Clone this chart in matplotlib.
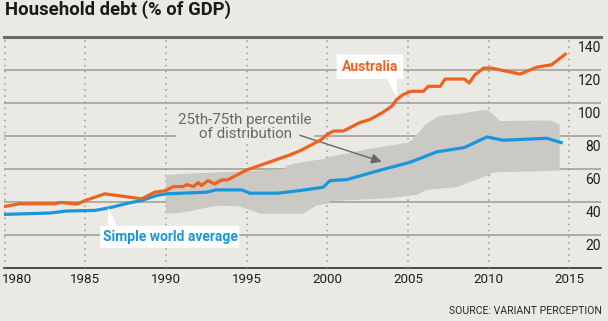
import matplotlib
matplotlib.use("Agg")
import matplotlib.pyplot as plt
from matplotlib.patches import Polygon

# Australia household debt, % of GDP (traced)
aus_years = [1980, 1980.95, 1983.1, 1983.5, 1984.5, 1985, 1986.2, 1988.5, 1989.3, 1990,
             1990.45, 1991.07, 1991.3, 1991.7, 1992.0, 1992.2, 1992.6, 1993.0, 1993.45,
             1993.8, 1995, 1997.7, 1998.3, 1998.9, 1999.65, 2000, 2000.4, 2001.0, 2002.0,
             2002.65, 2003.4, 2004.0, 2004.3, 2004.7, 2005.2, 2005.95, 2006.26, 2007.0,
             2007.3, 2008.5, 2008.8, 2009.15, 2009.7, 2010.2, 2011.95, 2013.0, 2013.9,
             2014.75]
aus_vals = [37.4, 39, 39, 39.8, 38.8, 41, 45, 42, 46, 47,
            49.4, 49.4, 50.6, 49.4, 51.8, 50, 53, 51, 53.4,
            53.4, 59.4, 68.6, 71, 74, 78, 81, 83, 83, 88,
            90, 94, 98, 102, 105, 107, 107, 110, 110,
            114.4, 114.4, 112, 117, 121, 121, 117.4, 121.6, 123,
            129.4]

# simple world average
wavg_years = [1980, 1982.8, 1983.8, 1985.6, 1986.5, 1987.66, 1988.5, 1989.4, 1990.0,
              1992.5, 1993.1, 1994.7, 1995.2, 1996.9, 1998.3, 1999.75, 2000.17, 2001.2,
              2003.3, 2005.1, 2006.8, 2008.5, 2009.9, 2010.9, 2013.6, 2014.5]
wavg_vals = [32.6, 33.4, 34.6, 35, 36.6, 39.4, 41, 44, 45,
             46, 47.4, 47.4, 45.4, 45.4, 47, 49, 53, 53.6,
             59.4, 64, 70.4, 73, 79.4, 77.4, 78.6, 76]

# 25th-75th percentile band
hi_years = [1990, 1991.7, 1994.8, 1997.3, 1997.5, 1998.3, 1999.75, 2000.17, 2002.5, 2005.0,
            2005.3, 2006.1, 2006.9, 2008.2, 2009.7, 2010.0, 2010.7, 2013.8, 2014.4]
hi_vals = [56.4, 57.4, 58.6, 60, 62, 64, 66, 67.4, 72, 76,
           78, 87, 92, 93.4, 95.6, 95.4, 89, 89.4, 87]
lo_years = [1990, 1990.9, 1992.7, 1993.35, 1994.6, 1995.8, 1998.5, 1999.35, 2000, 2000.2,
            2003.9, 2005.6, 2006.1, 2008.0, 2009.9, 2010.3, 2014.4]
lo_vals = [33, 33.4, 37, 37.8, 37.4, 33, 33, 38, 39, 40.6,
           42.4, 44.5, 47.4, 49, 56, 58, 59]

year_ticks = [1980, 1985, 1990, 1995, 2000, 2005, 2010, 2015]
val_ticks = [20, 40, 60, 80, 100, 120, 140]

BG = "#ebe9e4"
ORANGE = "#ee6221"
BLUE = "#1897dc"
BAND = "#cbc9c3"
FONT = "Roboto"

W, H = 608, 321
fig = plt.figure(figsize=(W / 100, H / 100), dpi=100, facecolor=BG)

# pixel layout of the plot area
px_l, px_r = 4, 601
py_top, py_bot = 36.7, 268.3
ax = fig.add_axes([px_l / W, (H - py_bot) / H, (px_r - px_l) / W, (py_bot - py_top) / H])
ax.set_facecolor(BG)
ppy = 16.13  # pixels per year
ax.set_xlim(1980 - (4.7 - px_l) / ppy, 1980 + (px_r - 4.7) / ppy)
ax.set_ylim(0, 140)
for s in ax.spines.values():
    s.set_visible(False)
ax.set_xticks([])
ax.set_yticks([])

# grid
for v in val_ticks[:-1]:
    ax.axhline(v, color="#a3a19d", lw=1.2, zorder=1)
ax.axhline(140, color="#6d6b68", lw=2.2, zorder=1, clip_on=False)
ax.axhline(0, color="#3d3c3a", lw=1.3, zorder=1, clip_on=False)
for yr in year_ticks:
    ax.axvline(yr, color="#9a9894", lw=1.1, ls=(0, (1, 3)), zorder=1)

# band
band_x = hi_years + lo_years[::-1]
band_y = hi_vals + lo_vals[::-1]
ax.fill(band_x, band_y, color=BAND, lw=0, zorder=2)

ax.plot(wavg_years, wavg_vals, color=BLUE, lw=2.3, zorder=4, solid_joinstyle="round")
ax.plot(aus_years, aus_vals, color=ORANGE, lw=2.3, zorder=4, solid_joinstyle="round")

# tick labels
for v in val_ticks:
    ax.annotate(str(v), xy=(1, v), xycoords=("axes fraction", "data"),
                xytext=(0, -11), textcoords="offset pixels", ha="right", va="center",
                fontsize=10, family=FONT, color="#1e1e1e")
for yr in year_ticks:
    ha = "left" if yr == 1980 else "center"
    ax.annotate(str(yr), xy=(yr, 0), xycoords="data",
                xytext=(-3 if yr == 1980 else 0, -11),
                textcoords="offset pixels", ha=ha, va="center",
                fontsize=9.6, family=FONT, color="#1e1e1e", annotation_clip=False)

# callout: Australia
aus_box = [(2000.58, 129.2), (2004.71, 129.2), (2004.71, 114.4), (2004.32, 114.4),
           (2004.32, 103), (2003.70, 114.4), (2000.58, 114.4)]
ax.add_patch(Polygon(aus_box, closed=True, fc="white", ec="none", zorder=5))
ax.text(2002.64, 121.8, "Australia", ha="center", va="center", color=ORANGE,
        fontsize=10, fontweight="bold", family=FONT, zorder=6)

# callout: world average
wavg_box = [(1985.91, 25.6), (1986.42, 25.6), (1986.42, 37), (1986.94, 25.6),
            (1994.54, 25.6), (1994.54, 12.4), (1985.91, 12.4)]
ax.add_patch(Polygon(wavg_box, closed=True, fc="white", ec="none", zorder=5))
ax.text(1990.25, 18.9, "Simple world average", ha="center", va="center", color=BLUE,
        fontsize=10, fontweight="bold", family=FONT, zorder=6)

# band label + arrow
ax.text(1994.9, 85.3, "25th-75th percentile\nof distribution", ha="center", va="center",
        color="#6a6865", fontsize=10.8, family=FONT, linespacing=1.0, zorder=3,
        bbox=dict(boxstyle="square,pad=0.12", fc=BG, ec="none"))
ax.annotate("", xy=(2003.37, 64.4), xytext=(1998.3, 80.4),
            arrowprops=dict(arrowstyle="-|>,head_length=0.6,head_width=0.3",
                            color="#6a6865", lw=1.0, shrinkA=0, shrinkB=0), zorder=3)

fig.text(5 / W, 1 - 10 / H, "Household debt (% of GDP)", ha="left", va="center",
         fontsize=13.3, fontweight="semibold", family=FONT, color="#1a1a1a")
fig.text(601.5 / W, 1 - 311.5 / H, "SOURCE: VARIANT PERCEPTION", ha="right", va="center",
         fontsize=7.6, family=FONT, color="#2a2a2a")

fig.savefig("out.png", dpi=100, facecolor=BG)
